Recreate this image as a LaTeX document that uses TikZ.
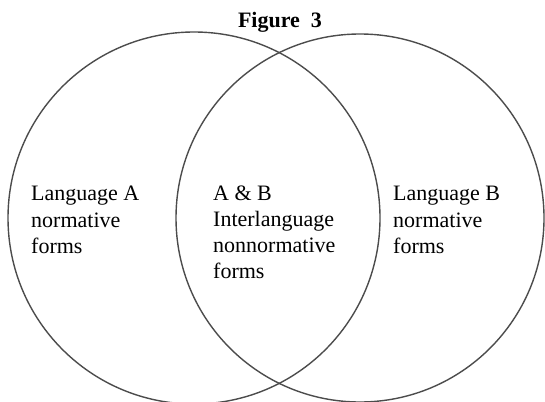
\documentclass[tikz,border=0pt]{standalone}
\usepackage{fontspec}
\setmainfont{Liberation Serif}
\begin{document}
\begin{tikzpicture}[x=1pt,y=-1pt]
\useasboundingbox (0,0) rectangle (545,401);
\draw[line width=1.4pt, black!70] (194,218) circle (186pt);
\draw[line width=1.4pt, black!70] (360,218) circle (184pt);
\node[font=\bfseries\fontsize{22}{26}\selectfont, anchor=base] (title) at (280,28) {Figure\ \ 3};
\node[align=left, anchor=north west, inner sep=0pt, font=\fontsize{22}{26.5}\selectfont] (langA) at (31,186) {Language A\\normative\\forms};
\node[align=left, anchor=north west, inner sep=0pt, font=\fontsize{22}{26}\selectfont] (both) at (213,186) {A \& B\\Interlanguage\\nonnormative\\forms};
\node[align=left, anchor=north west, inner sep=0pt, font=\fontsize{22}{26.5}\selectfont] (langB) at (393,186) {Language B\\normative\\forms};
\end{tikzpicture}
\end{document}
